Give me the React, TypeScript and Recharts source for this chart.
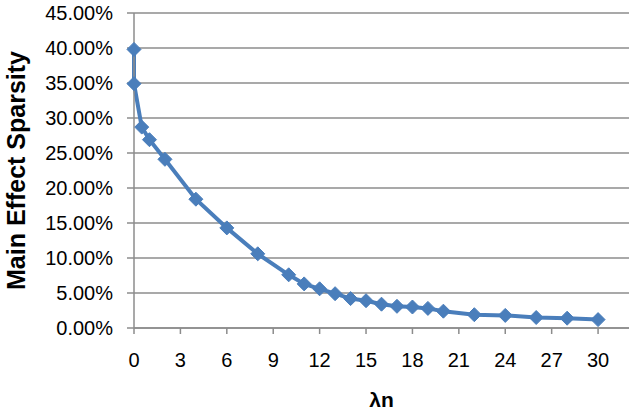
import React from 'react';
import { LineChart, Line, XAxis, YAxis, CartesianGrid } from 'recharts';

const lambdaN = [0, 0, 0.5, 1, 2, 4, 6, 8, 10, 11, 12, 13, 14, 15, 16, 17, 18, 19, 20, 22, 24, 26, 28, 30];
const sparsity = [39.8, 34.9, 28.7, 26.9, 24.1, 18.4, 14.3, 10.6, 7.6, 6.3, 5.6, 4.9, 4.2, 3.9, 3.4, 3.1, 3.0, 2.8, 2.4, 1.9, 1.8, 1.5, 1.4, 1.2];
const xTicks = [0, 3, 6, 9, 12, 15, 18, 21, 24, 27, 30];
const yTicks = [0, 5, 10, 15, 20, 25, 30, 35, 40, 45];

const data = lambdaN.map((x, i) => ({ x, y: sparsity[i] }));

const FONT = '"Liberation Sans", Arial, sans-serif';
const BLUE = '#4a7ebb';
const GRAY = '#8c8c8c';

const Diamond = (props: any) => {
  const { cx, cy, index } = props;
  if (cx == null || cy == null) return null;
  const r = 7;
  return (
    <path
      key={`d-${index}`}
      d={`M${cx},${cy - r}L${cx + r},${cy}L${cx},${cy + r}L${cx - r},${cy}Z`}
      fill={BLUE}
      stroke={BLUE}
      strokeWidth={1}
    />
  );
};

export default function App() {
  return (
    <div style={{ position: 'absolute', left: 0, top: 0, background: '#fff' }}>
      <LineChart
        width={635}
        height={417}
        data={data}
        margin={{ top: 13, right: 6, bottom: 0, left: 0 }}
      >
        <CartesianGrid vertical={false} stroke={GRAY} strokeWidth={1.5} />
        <XAxis
          dataKey="x"
          type="number"
          domain={[0, 32]}
          ticks={xTicks}
          interval={0}
          height={89}
          stroke={GRAY}
          strokeWidth={1.5}
          tickSize={6}
          tickMargin={19}
          tick={{ fontSize: 20, fill: '#000', fontFamily: FONT }}
          label={{
            value: 'λn',
            position: 'insideBottom',
            offset: 10,
            style: { fontSize: 21, fontWeight: 'bold', fill: '#000', fontFamily: FONT },
          }}
        />
        <YAxis
          type="number"
          domain={[0, 45]}
          ticks={yTicks}
          interval={0}
          width={134}
          stroke={GRAY}
          strokeWidth={1.5}
          tickSize={7}
          tickMargin={14}
          tickFormatter={(v: number) => `${v.toFixed(2)}%`}
          tick={{ fontSize: 20, fill: '#000', fontFamily: FONT }}
          label={{
            value: 'Main Effect Sparsity',
            angle: -90,
            position: 'insideLeft',
            offset: 16,
            style: { fontSize: 25, fontWeight: 'bold', fill: '#000', fontFamily: FONT, textAnchor: 'middle' },
          }}
        />
        <Line
          type="linear"
          dataKey="y"
          stroke={BLUE}
          strokeWidth={4}
          dot={Diamond}
          activeDot={false}
          isAnimationActive={false}
        />
      </LineChart>
    </div>
  );
}
